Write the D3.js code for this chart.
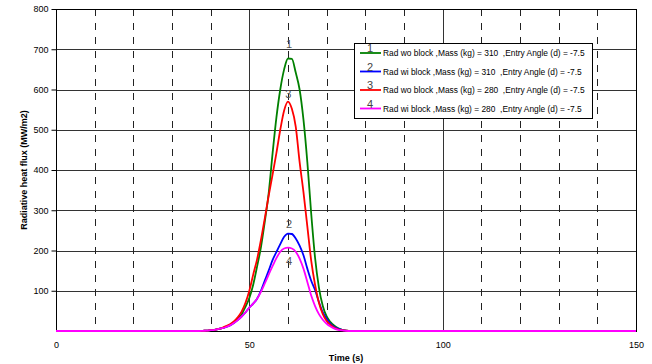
<!DOCTYPE html>
<html>
<head>
<meta charset="utf-8">
<script src="https://cdn.jsdelivr.net/npm/d3@7"></script>
<style>
  body { margin: 0; background: #fff; }
  svg { display: block; }
  text { font-family: "Liberation Sans", Arial, sans-serif; }
</style>
</head>
<body>
<svg id="chart" width="652" height="364"></svg>
<script>
// time axis (s)
const times = [0, 36, 37, 38, 39, 40, 41, 42, 43, 44, 45, 46, 47, 48, 49, 50, 51, 52, 53, 54, 55, 56, 57,
  58, 59, 60, 61, 62, 63, 64, 65, 66, 67, 68, 69, 70, 71, 72, 73, 74, 75, 76, 77, 78, 150];

// radiative heat flux (MW/m2), one value per time
const radWoBlock310 = [0, 0, 0, 0.5, 1, 2, 3, 5, 7, 11, 15, 21, 30, 41, 60, 82, 115, 160, 208, 272, 342, 440, 530,
  600, 650, 677, 676, 642, 600, 525, 420, 292, 182, 108, 62, 36, 22, 13, 7, 3, 1, 0, 0, 0, 0];
const radWiBlock310 = [0, 0, 0, 0.5, 1, 2, 3, 5, 7, 10, 14, 20, 27, 36, 46, 58, 68, 80, 100, 125, 150, 176, 196,
  216, 234, 242, 241, 230, 212, 188, 155, 125, 102, 72, 46, 30, 18, 10, 6, 3, 1, 0, 0, 0, 0];
const radWoBlock280 = [0, 0, 0, 0.5, 1, 2, 3, 5, 8, 12, 17, 24, 34, 48, 70, 100, 140, 178, 226, 280, 336, 388, 442,
  500, 548, 570, 552, 508, 420, 345, 260, 175, 115, 70, 42, 25, 15, 8, 4, 2, 1, 0, 0, 0, 0];
const radWiBlock280 = [0, 0, 0, 0.5, 1, 2, 3, 5, 7, 10, 14, 20, 27, 36, 46, 58, 68, 80, 97, 118, 140, 161, 181,
  197, 205, 207, 205, 197, 180, 155, 122, 88, 62, 42, 28, 18, 11, 6, 3, 1.5, 0.5, 0, 0, 0, 0];

const seriesNames = [
  "Rad wo block ,Mass (kg) = 310  ,Entry Angle (d) = -7.5",
  "Rad wi block ,Mass (kg) = 310  ,Entry Angle (d) = -7.5",
  "Rad wo block ,Mass (kg) = 280  ,Entry Angle (d) = -7.5",
  "Rad wi block ,Mass (kg) = 280  ,Entry Angle (d) = -7.5"
];
const seriesTags = ["1", "2", "3", "4"];
const seriesColors = ["#008000", "#0000ff", "#ff0000", "#ff00ff"];
// where the little number tags sit on the curves
const tagTimes = [60.3, 60.3, 60.1, 60.3];
const tagValues = [711, 263, 586, 171];

const xTicks = [0, 50, 100, 150];
const xMinor = [10, 20, 30, 40, 60, 70, 80, 90, 110, 120, 130, 140];
const yTicks = [100, 200, 300, 400, 500, 600, 700, 800];

const svg = d3.select('#chart');
const margin = {top: 9, left: 56, right: 16, bottom: 33};
const width = 652, height = 364;

const x = d3.scaleLinear().domain([0, 150]).range([margin.left, width - margin.right]);
const y = d3.scaleLinear().domain([0, 800]).range([height - margin.bottom, margin.top]);

const crisp = v => Math.round(v) + 0.5;

// horizontal grid
svg.append('g').selectAll('line').data(yTicks.slice(0, -1)).enter().append('line')
  .attr('x1', x(0)).attr('x2', x(150))
  .attr('y1', d => crisp(y(d))).attr('y2', d => crisp(y(d)))
  .attr('stroke', '#333').attr('stroke-width', 1);

// dashed minor verticals
svg.append('g').selectAll('line').data(xMinor).enter().append('line')
  .attr('x1', d => crisp(x(d))).attr('x2', d => crisp(x(d)))
  .attr('y1', y(800)).attr('y2', y(0))
  .attr('stroke', '#222').attr('stroke-width', 1)
  .attr('stroke-dasharray', '7,7');

// solid major verticals
svg.append('g').selectAll('line').data([50, 100]).enter().append('line')
  .attr('x1', d => crisp(x(d))).attr('x2', d => crisp(x(d)))
  .attr('y1', y(800)).attr('y2', y(0))
  .attr('stroke', '#333').attr('stroke-width', 1);

// plot frame
svg.append('rect')
  .attr('x', crisp(x(0))).attr('y', crisp(y(800)))
  .attr('width', Math.round(x(150) - x(0))).attr('height', Math.round(y(0) - y(800)))
  .attr('fill', 'none').attr('stroke', '#000').attr('stroke-width', 1);

// y axis
const yAxis = svg.append('g')
  .attr('transform', `translate(${crisp(x(0))},0)`)
  .call(d3.axisLeft(y).tickValues(yTicks).tickSize(5).tickPadding(3));
yAxis.select('.domain').remove();
yAxis.selectAll('text').attr('font-size', 9).attr('fill', '#000')
  .attr('font-family', '"Liberation Sans", Arial, sans-serif');

// x axis
const xAxis = svg.append('g')
  .attr('transform', `translate(0,${crisp(y(0))})`)
  .call(d3.axisBottom(x).tickValues(xTicks).tickSize(0).tickPadding(10));
xAxis.select('.domain').remove();
xAxis.selectAll('text').attr('font-size', 9).attr('fill', '#000')
  .attr('font-family', '"Liberation Sans", Arial, sans-serif');

// axis titles
svg.append('text')
  .attr('x', (x(0) + x(150)) / 2).attr('y', 361)
  .attr('text-anchor', 'middle')
  .attr('font-size', 9).attr('font-weight', 'bold')
  .text('Time (s)');

svg.append('text')
  .attr('transform', `translate(25,${(y(0) + y(800)) / 2}) rotate(-90)`)
  .attr('text-anchor', 'middle').attr('dominant-baseline', 'middle')
  .attr('font-size', 9).attr('font-weight', 'bold')
  .text('Radiative heat flux (MW/m2)');

// curves
const allSeries = [radWoBlock310, radWiBlock310, radWoBlock280, radWiBlock280];
const line = d3.line()
  .x(d => x(d[0])).y(d => y(d[1]))
  .curve(d3.curveMonotoneX);

svg.append('g').selectAll('path').data(allSeries).enter().append('path')
  .attr('d', vals => line(times.map((t, i) => [t, vals[i]])))
  .attr('fill', 'none')
  .attr('stroke', (d, i) => seriesColors[i])
  .attr('stroke-width', 1.8);

// number tags on the curves
svg.append('g').selectAll('text').data(seriesTags).enter().append('text')
  .attr('x', (d, i) => x(tagTimes[i])).attr('y', (d, i) => y(tagValues[i]))
  .attr('text-anchor', 'middle').attr('dominant-baseline', 'middle')
  .attr('font-family', '"Liberation Serif", "Times New Roman", serif')
  .attr('font-size', 11).attr('fill', '#555')
  .text(d => d);

// legend
const legend = svg.append('g').attr('transform', 'translate(354,43)');
legend.append('rect')
  .attr('x', 0.5).attr('y', 0.5).attr('width', 238).attr('height', 75)
  .attr('fill', '#fff').attr('stroke', '#000').attr('stroke-width', 1);

const rows = legend.selectAll('g.row').data(seriesNames).enter().append('g')
  .attr('class', 'row')
  .attr('transform', (d, i) => `translate(0,${10 + i * 18.5})`);

rows.append('line')
  .attr('x1', 6).attr('x2', 27).attr('y1', 0).attr('y2', 0)
  .attr('stroke', (d, i) => seriesColors[i]).attr('stroke-width', 1.8);

rows.append('text')
  .attr('x', 16).attr('y', -1)
  .attr('text-anchor', 'middle')
  .attr('font-family', '"Liberation Serif", "Times New Roman", serif')
  .attr('font-size', 11).attr('fill', '#444')
  .text((d, i) => seriesTags[i]);

rows.append('text')
  .attr('x', 29).attr('y', 3)
  .attr('font-size', 8.4).attr('fill', '#000')
  .style('white-space', 'pre')
  .text(d => d);
</script>
</body>
</html>
